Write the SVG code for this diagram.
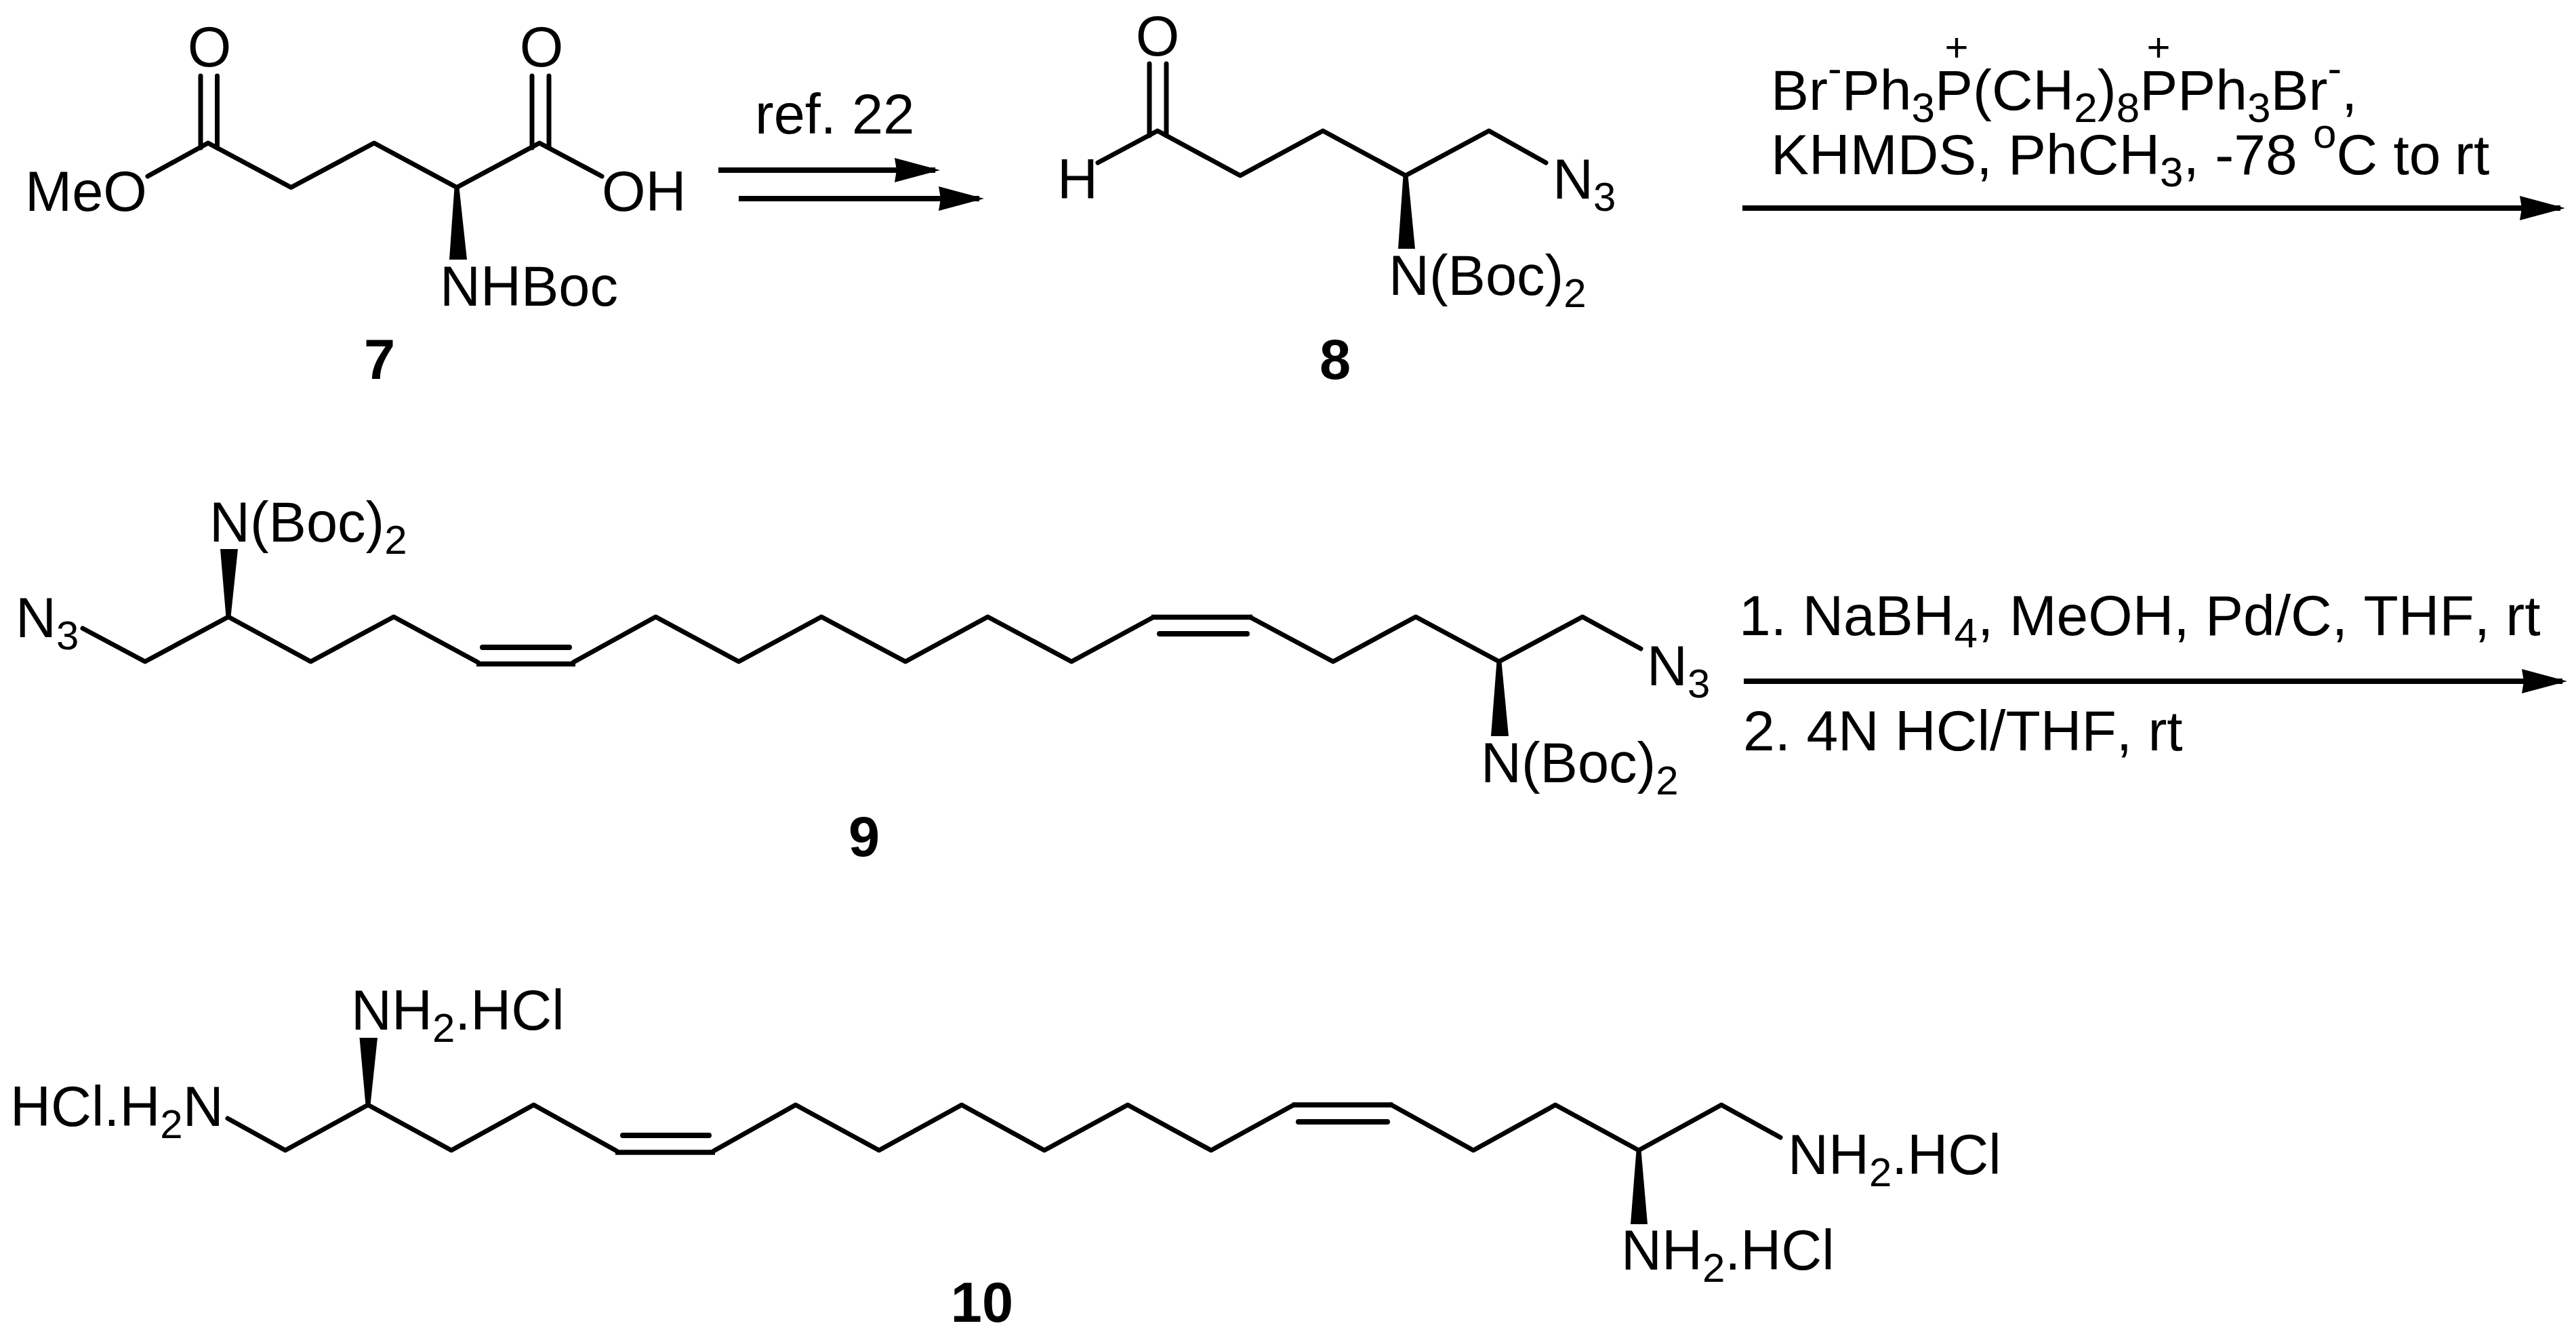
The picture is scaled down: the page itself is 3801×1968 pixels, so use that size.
<svg xmlns="http://www.w3.org/2000/svg" width="3801" height="1968" viewBox="0 0 3801 1968">
<style>
text{font-family:"Liberation Sans",Arial,sans-serif;font-size:83px;fill:#000;font-kerning:none}
.b{font-weight:bold}
.s{font-size:60px}
.r{font-size:84px}
.r .s{font-size:62px}
.p{font-size:60px}
.m{text-anchor:middle}
.bond{fill:none;stroke:#000;stroke-width:7;stroke-linejoin:round;stroke-linecap:round}
.thick{fill:none;stroke:#000;stroke-width:7.500}
.inner{fill:none;stroke:#000;stroke-width:8;stroke-linecap:round}
.arrow{fill:none;stroke:#000;stroke-width:8;marker-end:url(#head)}
</style>
<defs>
<marker id="head" markerUnits="userSpaceOnUse" markerWidth="67" markerHeight="36" refX="60" refY="18" orient="auto"><path d="M0,0L67,18L0,36L3,18Z" fill="#000"/></marker>
</defs>
<rect width="3801" height="1968" fill="#fff"/>
<g id="connectors">
<line class="arrow" x1="1060" y1="251" x2="1380" y2="251"/>
<line class="arrow" x1="1090" y1="293" x2="1445" y2="293"/>
<line class="arrow" x1="2571" y1="307" x2="3778" y2="307"/>
<line class="arrow" x1="2573" y1="1005" x2="3781" y2="1005"/>
</g>
<g id="compound-7">
<path class="bond" d="M218,260L307,211L429.500,276.500L552,211L674,276.500L796,211L888,260"/>
<path class="bond" d="M296,112V218M320.500,112V218M785,112V218M810,112V218"/>
<polygon points="670.500,276.500 677.500,276.500 689,383 663,383"/>
<text x="309" y="98" class="m">O</text>
<text x="799" y="98" class="m">O</text>
<text x="37" y="311">MeO</text>
<text x="888" y="311">OH</text>
<text x="649" y="451">NHBoc</text>
<text x="560" y="559" class="m b">7</text>
</g>
<g id="step-1-label"><text x="1114" y="197">ref. 22</text></g>
<g id="compound-8">
<path class="bond" d="M1620,240L1708,193L1830,259L1952,193L2074,259L2197,193L2281,240"/>
<path class="bond" d="M1696,94V200M1721,94V200"/>
<polygon points="2070.500,259 2077.500,259 2088,367 2063,367"/>
<text x="1708" y="82" class="m">O</text>
<text x="1560" y="293">H</text>
<text x="2291" y="293">N<tspan class="s" dy="18">3</tspan></text>
<text x="2049" y="435">N(Boc)<tspan class="s" dy="18">2</tspan></text>
<text x="1970" y="559" class="m b">8</text>
</g>
<g id="step-2-label">
<text x="2887" y="90" class="p m">+</text>
<text x="3185" y="90" class="p m">+</text>
<text x="2613" y="161.500" class="r">Br<tspan class="s" dy="-40">-</tspan><tspan dy="40">Ph</tspan><tspan class="s" dy="18">3</tspan><tspan dy="-18">P(CH</tspan><tspan class="s" dy="18">2</tspan><tspan dy="-18">)</tspan><tspan class="s" dy="18">8</tspan><tspan dy="-18">PPh</tspan><tspan class="s" dy="18">3</tspan><tspan dy="-18">Br</tspan><tspan class="s" dy="-40">-</tspan><tspan dy="40">,</tspan></text>
<text x="2613" y="256.500" class="r">KHMDS, PhCH<tspan class="s" dy="18">3</tspan><tspan dy="-18">, -78 </tspan><tspan class="s" dy="-39">o</tspan><tspan dy="39">C to </tspan><tspan dx="-3">rt</tspan></text>
</g>
<g id="compound-9">
<path class="bond" d="M122,927L214,976L337,910L458.500,976L581,910L705,977"/>
<path class="bond" d="M846,977L967.500,910L1090,976L1212,910L1336,976L1457.500,910L1581,976L1701,911"/>
<path class="bond" d="M1845.500,911L1967,976L2089,910L2212,976L2335,910L2421,957"/>
<path class="thick" d="M703,979.500H849M1699,910.500H1848"/>
<path class="inner" d="M712,955H840M1711,935H1840"/>
<polygon points="333.500,910 340.500,910 351,810 325,810"/>
<polygon points="2208.500,976 2215.500,976 2226,1086 2200,1086"/>
<text x="23" y="940">N<tspan class="s" dy="18">3</tspan></text>
<text x="309" y="799">N(Boc)<tspan class="s" dy="18">2</tspan></text>
<text x="2430" y="1011">N<tspan class="s" dy="18">3</tspan></text>
<text x="2185" y="1154">N(Boc)<tspan class="s" dy="18">2</tspan></text>
<text x="1275" y="1263" class="m b">9</text>
</g>
<g id="step-3-label">
<text x="2566" y="937" class="r">1. NaBH<tspan class="s" dy="18">4</tspan><tspan dy="-18">, MeOH, Pd/C, THF, rt</tspan></text>
<text x="2572" y="1107" class="r">2. 4N HCl/THF, rt</text>
</g>
<g id="compound-10">
<path class="bond" d="M336,1650L421,1697L543,1630L666,1697L787.500,1630L910,1698"/>
<path class="bond" d="M1053,1698L1174,1630L1297,1697L1419,1630L1541,1697L1664,1630L1787,1697L1909,1630"/>
<path class="bond" d="M2053,1630L2174,1697L2295,1630L2418,1697L2540,1630L2627,1678"/>
<path class="thick" d="M908,1700H1055M1907,1630H2055"/>
<path class="inner" d="M919,1675H1046M1916,1655H2047"/>
<polygon points="539.500,1630 546.500,1630 557,1531 530.500,1531"/>
<polygon points="2414.500,1697 2421.500,1697 2431,1806 2406,1806"/>
<text x="15" y="1661">HCl.H<tspan class="s" dy="18">2</tspan><tspan dy="-18">N</tspan></text>
<text x="518" y="1519">NH<tspan class="s" dy="18">2</tspan><tspan dy="-18">.HCl</tspan></text>
<text x="2392" y="1873">NH<tspan class="s" dy="18">2</tspan><tspan dy="-18">.HCl</tspan></text>
<text x="2638" y="1732">NH<tspan class="s" dy="18">2</tspan><tspan dy="-18">.HCl</tspan></text>
<text x="1449" y="1950" class="m b">10</text>
</g>
</svg>
